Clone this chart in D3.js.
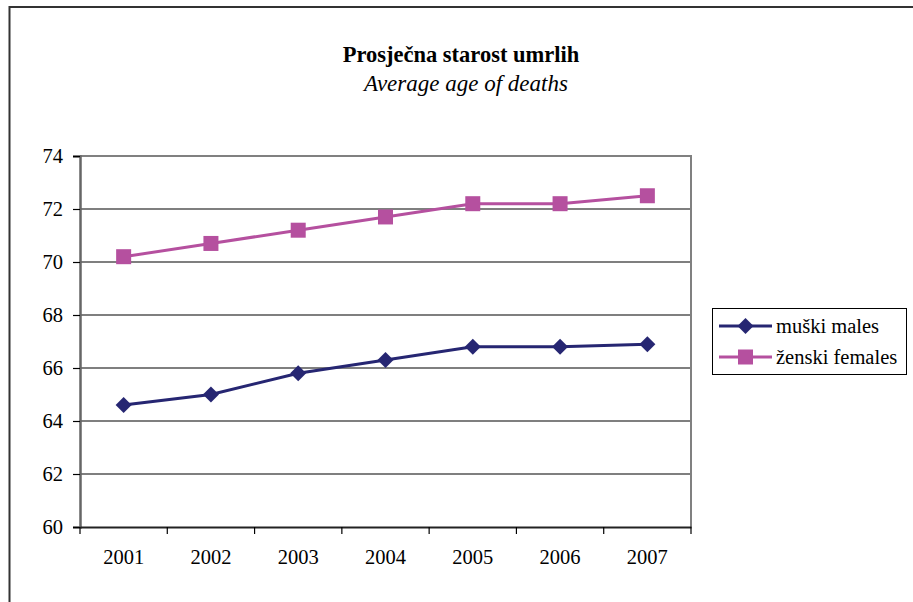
<!DOCTYPE html>
<html><head><meta charset="utf-8">
<script src="https://cdn.jsdelivr.net/npm/d3@7/dist/d3.min.js"></script>
<style>body{margin:0;background:#fff}svg{display:block}</style>
</head><body>
<script>
const years = ["2001","2002","2003","2004","2005","2006","2007"];
const males = [64.6, 65.0, 65.8, 66.3, 66.8, 66.8, 66.9];
const females = [70.2, 70.7, 71.2, 71.7, 72.2, 72.2, 72.5];
const yTicks = [60, 62, 64, 66, 68, 70, 72, 74];
const titleMain = "Prosječna starost umrlih";
const titleSub = "Average age of deaths";
const seriesNames = ["muški males", "ženski females"];

const W = 913, H = 602;
const font = "Liberation Serif, Tinos, Times New Roman, Times, DejaVu Serif, serif";
const svg = d3.select("body").append("svg").attr("width", W).attr("height", H);
svg.append("rect").attr("width", W).attr("height", H).attr("fill", "#fff");

// outer frame (cropped at right/bottom)
svg.append("path").attr("d", "M9.5,602 L9.5,7 L913,7").attr("fill", "none").attr("stroke", "#333").attr("stroke-width", 2);

const L = 80, R = 691, T = 156, B = 527;
const x = d3.scaleBand().domain(years).range([L, R]);
const y = d3.scaleLinear().domain([60, 74]).range([B, T]);

// gridlines
svg.append("g").selectAll("line").data(yTicks.filter(v => v > 60 && v < 74)).join("line")
  .attr("x1", L).attr("x2", R).attr("y1", d => y(d)).attr("y2", d => y(d))
  .attr("stroke", "#000").attr("stroke-width", 1.2);

// plot border top & right (gray)
svg.append("path").attr("d", `M${L},${T} L${R},${T} L${R},${B}`).attr("fill", "none").attr("stroke", "#808080").attr("stroke-width", 2);

// y axis
const yAxis = svg.append("g").attr("transform", `translate(${L},0)`)
  .call(d3.axisLeft(y).tickValues(yTicks).tickSize(7).tickPadding(10).tickFormat(d3.format("d")));
yAxis.attr("font-family", null).attr("font-size", null);
yAxis.select(".domain").attr("stroke", "#666").attr("stroke-width", 2.5);
yAxis.selectAll(".tick line").attr("stroke", "#000").attr("stroke-width", 1.2);
yAxis.selectAll("text").style("font-family", font).style("font-size", "20.5px").attr("fill", "#000");

// x axis
const xAxis = svg.append("g").attr("transform", `translate(0,${B})`)
  .call(d3.axisBottom(x).tickSize(0).tickPadding(22));
xAxis.attr("font-family", null).attr("font-size", null);
xAxis.select(".domain").attr("stroke", "#222").attr("stroke-width", 2);
xAxis.selectAll("text").style("font-family", font).style("font-size", "20.5px").attr("fill", "#000");
// x tick marks at band boundaries
const bounds = years.map(d => x(d)).concat([R]);
svg.append("g").selectAll("line").data(bounds).join("line")
  .attr("x1", d => d).attr("x2", d => d).attr("y1", B).attr("y2", B + 7)
  .attr("stroke", "#000").attr("stroke-width", 1.2);

const cx = d => x(d) + x.bandwidth() / 2;
const line = d3.line().x((d, i) => cx(years[i])).y(d => y(d));

const cMale = "#262672", cFem = "#B5509F";
svg.append("path").datum(females).attr("d", line).attr("fill", "none").attr("stroke", cFem).attr("stroke-width", 3);
svg.append("path").datum(males).attr("d", line).attr("fill", "none").attr("stroke", cMale).attr("stroke-width", 3);

svg.append("g").selectAll("rect").data(females).join("rect")
  .attr("x", (d, i) => cx(years[i]) - 7.5).attr("y", d => y(d) - 7.5)
  .attr("width", 15).attr("height", 15).attr("fill", cFem);
svg.append("g").selectAll("path").data(males).join("path")
  .attr("transform", (d, i) => `translate(${cx(years[i])},${y(d)})`)
  .attr("d", "M0,-8 L8,0 L0,8 L-8,0 Z").attr("fill", cMale);

// title
svg.append("text").attr("x", 461).attr("y", 62).attr("text-anchor", "middle")
  .style("font-family", font).style("font-size", "22.5px").attr("font-weight", "bold").text(titleMain);
svg.append("text").attr("x", 466).attr("y", 91).attr("text-anchor", "middle")
  .style("font-family", font).style("font-size", "23px").attr("font-style", "italic").text(titleSub);

// legend
const lg = svg.append("g");
lg.append("rect").attr("x", 712.5).attr("y", 308.5).attr("width", 194).attr("height", 66)
  .attr("fill", "#fff").attr("stroke", "#000").attr("stroke-width", 1);
const rows = [{c: cMale, shape: "d", name: seriesNames[0], yy: 326}, {c: cFem, shape: "s", name: seriesNames[1], yy: 357}];
rows.forEach(r => {
  lg.append("line").attr("x1", 719).attr("x2", 772).attr("y1", r.yy).attr("y2", r.yy).attr("stroke", r.c).attr("stroke-width", 3);
  if (r.shape === "d") lg.append("path").attr("transform", `translate(745.5,${r.yy})`).attr("d", "M0,-8 L8,0 L0,8 L-8,0 Z").attr("fill", r.c);
  else lg.append("rect").attr("x", 738).attr("y", r.yy - 7.5).attr("width", 15).attr("height", 15).attr("fill", r.c);
  lg.append("text").attr("x", 776).attr("y", r.yy + 7).style("font-family", font).style("font-size", "20.5px").text(r.name);
});
</script>
</body></html>
